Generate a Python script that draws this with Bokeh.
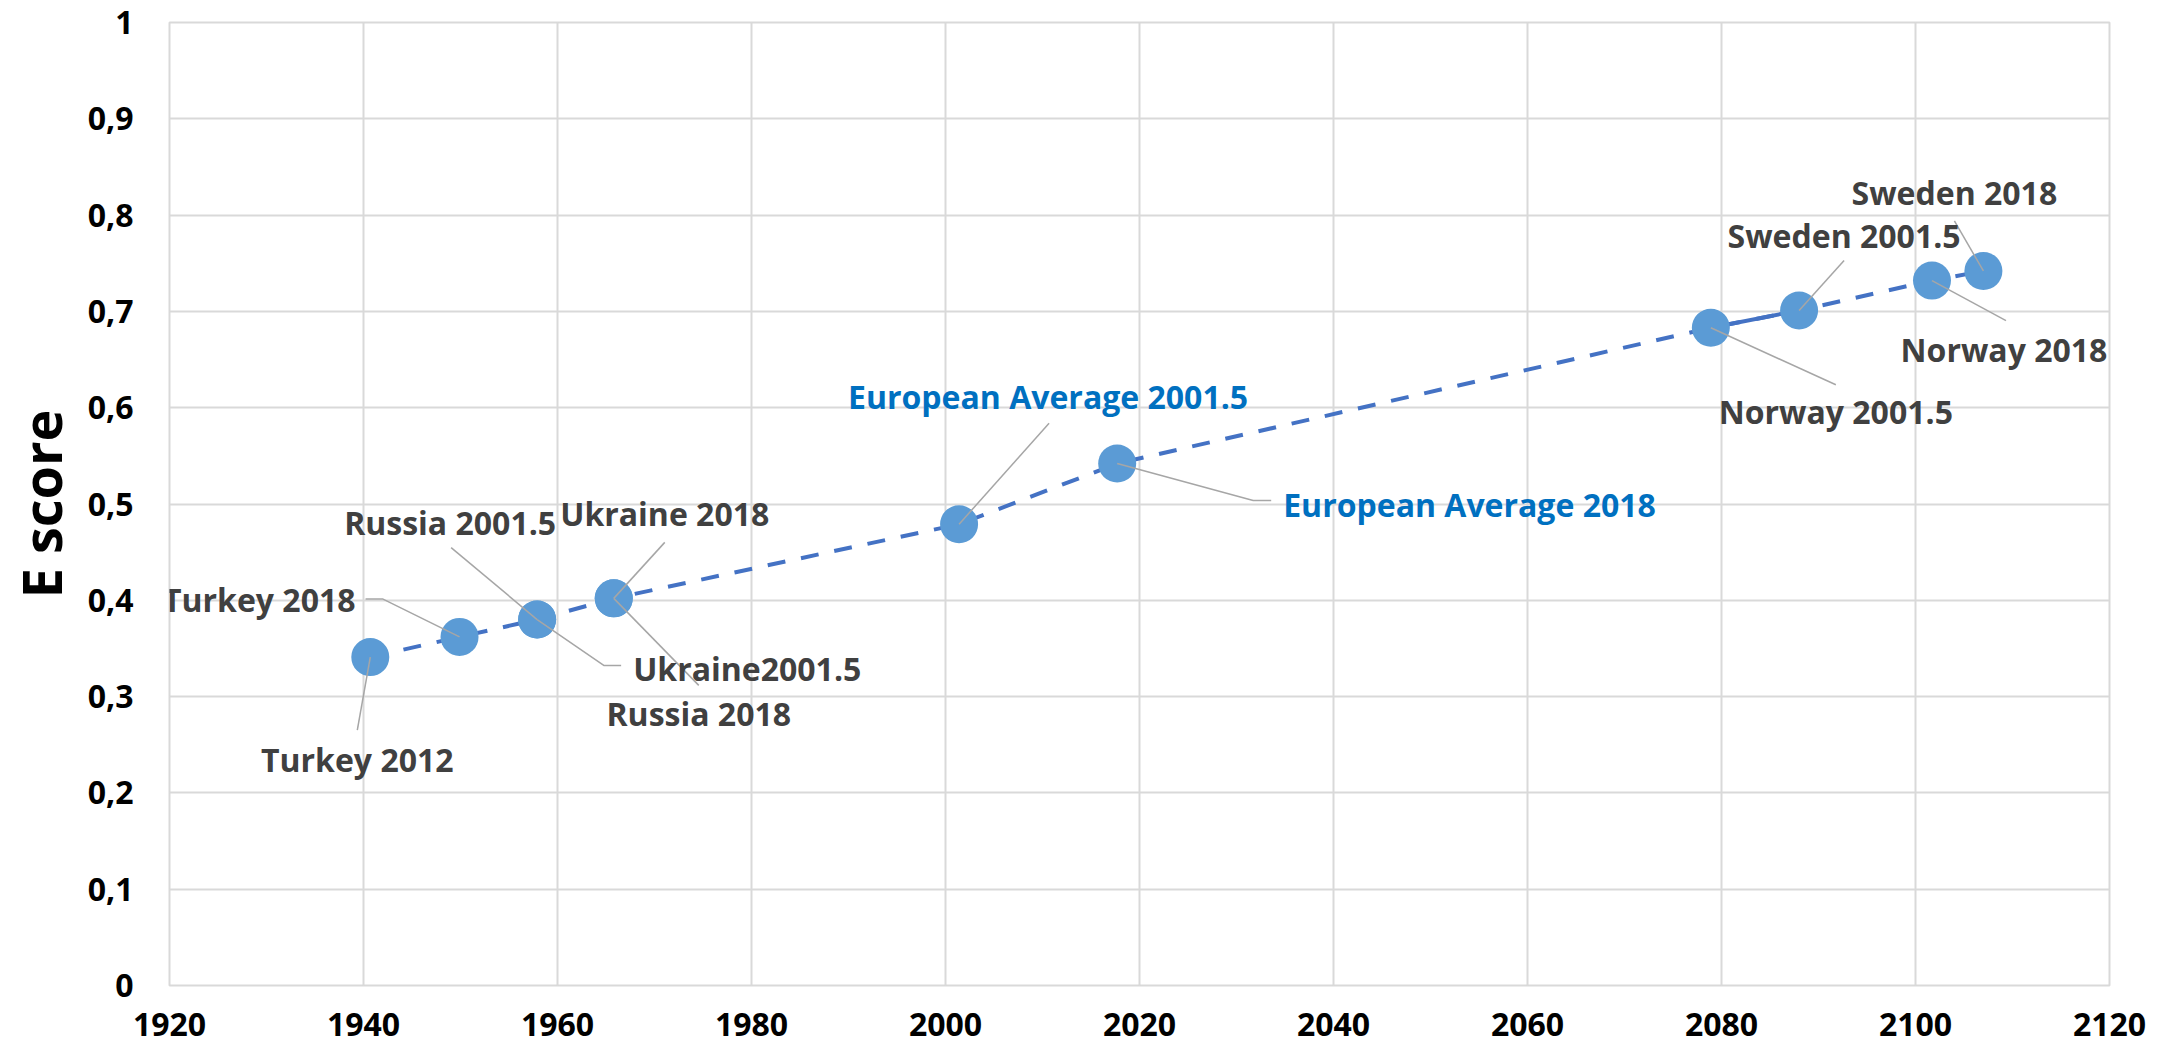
from bokeh.plotting import figure
from bokeh.models import ColumnDataSource, FixedTicker, CustomJSTickFormatter, Range1d, LabelSet
from bokeh.core.properties import value
from bokeh.embed import file_html
from bokeh.resources import INLINE

# ---- data ----
names = ["Turkey 2012", "Turkey 2018", "Russia 2001.5", "Ukraine2001.5",
         "Ukraine 2018", "Russia 2018", "European Average 2001.5",
         "European Average 2018", "Norway 2001.5", "Sweden 2001.5",
         "Norway 2018", "Sweden 2018"]
x_vals = [1940.7, 1949.9, 1957.9, 1957.9, 1965.8, 1965.8, 2001.4, 2017.7,
          2078.9, 2088.0, 2101.7, 2107.0]
e_scores = [0.341, 0.362, 0.380, 0.380, 0.402, 0.402, 0.479, 0.542,
            0.683, 0.701, 0.732, 0.742]
x_ticks = [1920, 1940, 1960, 1980, 2000, 2020, 2040, 2060, 2080, 2100, 2120]
y_ticks = [0, 0.1, 0.2, 0.3, 0.4, 0.5, 0.6, 0.7, 0.8, 0.9, 1.0]
y_title = "E score"
solid_pair = ("Norway 2001.5", "Sweden 2001.5")

# ---- label layout (pixel offsets from each point; +dy = downwards) ----
label_layout = {
    "Turkey 2012": ("center", -13, 102, [(0, 0), (-13, 73)]),
    "Turkey 2018": ("right", -104, -37, [(0, 0), (-77, -38), (-94, -38)]),
    "Russia 2001.5": ("center", -87, -97, [(0, 0), (-86, -72)]),
    "Ukraine2001.5": ("left", 96, 49, [(0, 0), (67, 46), (84, 46)]),
    "Ukraine 2018": ("center", 51, -85, [(0, 0), (51, -56)]),
    "Russia 2018": ("center", 85, 115, [(0, 0), (85, 87)]),
    "European Average 2001.5": ("center", 89, -128, [(0, 0), (90, -101)]),
    "European Average 2018": ("left", 166, 41, [(0, 0), (136, 37), (154, 37)]),
    "Norway 2001.5": ("center", 125, 84, [(0, 0), (125, 57)]),
    "Sweden 2001.5": ("center", 45, -75, [(0, 0), (45, -50)]),
    "Norway 2018": ("center", 72, 69, [(0, 0), (74, 40)]),
    "Sweden 2018": ("center", -29, -78, [(0, 0), (-29, -50)]),
}
blue_labels = {"European Average 2001.5", "European Average 2018"}

FRAME_W, FRAME_H = 1940, 963
X0, X1 = x_ticks[0], x_ticks[-1]
Y0, Y1 = y_ticks[0], y_ticks[-1]
px_x = FRAME_W / (X1 - X0)
px_y = FRAME_H / (Y1 - Y0)

FONT = "Open Sans"

p = figure(frame_width=FRAME_W, frame_height=FRAME_H,
           x_range=Range1d(X0, X1), y_range=Range1d(Y0, Y1),
           output_backend="svg", toolbar_location=None,
           min_border_left=161, min_border_right=54,
           min_border_top=22, min_border_bottom=65)
p.background_fill_color = "white"
p.border_fill_color = "white"
p.outline_line_color = "#d9d9d9"
p.outline_line_width = 2

p.xaxis.ticker = FixedTicker(ticks=x_ticks)
p.yaxis.ticker = FixedTicker(ticks=y_ticks)
p.yaxis.formatter = CustomJSTickFormatter(
    code="var s = (Math.round(tick*10)/10).toString(); return s.replace('.', ',');")
for ax in (p.xaxis, p.yaxis):
    ax.axis_line_color = None
    ax.major_tick_line_color = None
    ax.minor_tick_line_color = None
    ax.major_label_text_font = FONT
    ax.major_label_text_font_style = "bold"
    ax.major_label_text_font_size = "32px"
    ax.major_label_text_color = "black"
p.xaxis.major_label_standoff = 21
p.yaxis.major_label_standoff = 30
p.yaxis.axis_label = y_title
p.yaxis.axis_label_text_font = FONT
p.yaxis.axis_label_text_font_style = "bold"
p.yaxis.axis_label_text_font_size = "54px"
p.yaxis.axis_label_text_color = "black"
p.yaxis.axis_label_standoff = 7

p.grid.grid_line_color = "#d9d9d9"
p.grid.grid_line_width = 2

# connecting line (dashed), with one solid segment
p.line(x_vals, e_scores, line_color="#4472C4", line_width=4, line_dash="18 16")
i0, i1 = names.index(solid_pair[0]), names.index(solid_pair[1])
p.line([x_vals[i0], x_vals[i1]], [e_scores[i0], e_scores[i1]],
       line_color="#4472C4", line_width=4)

# markers
p.scatter(x_vals, e_scores, size=38, fill_color="#5B9BD5", line_color=None)

# leader lines
lx, ly = [], []
for n, xv, yv in zip(names, x_vals, e_scores):
    pts = label_layout[n][3]
    lx.append([xv + dx / px_x for dx, dy in pts])
    ly.append([yv - dy / px_y for dx, dy in pts])
p.multi_line(lx, ly, line_color="#A6A6A6", line_width=1.5)

# labels
src = ColumnDataSource(dict(
    x=x_vals, y=e_scores, text=names,
    align=[label_layout[n][0] for n in names],
    dx=[label_layout[n][1] for n in names],
    dy=[-label_layout[n][2] for n in names],
    color=["#0070C0" if n in blue_labels else "#404040" for n in names],
))
labels = LabelSet(x="x", y="y", text="text", source=src, x_offset="dx", y_offset="dy",
                  text_align="align", text_baseline="middle", text_color="color",
                  text_font=value(FONT), text_font_style="bold", text_font_size="32px")
p.add_layout(labels)

open("out.html", "w").write(file_html(p, INLINE))
